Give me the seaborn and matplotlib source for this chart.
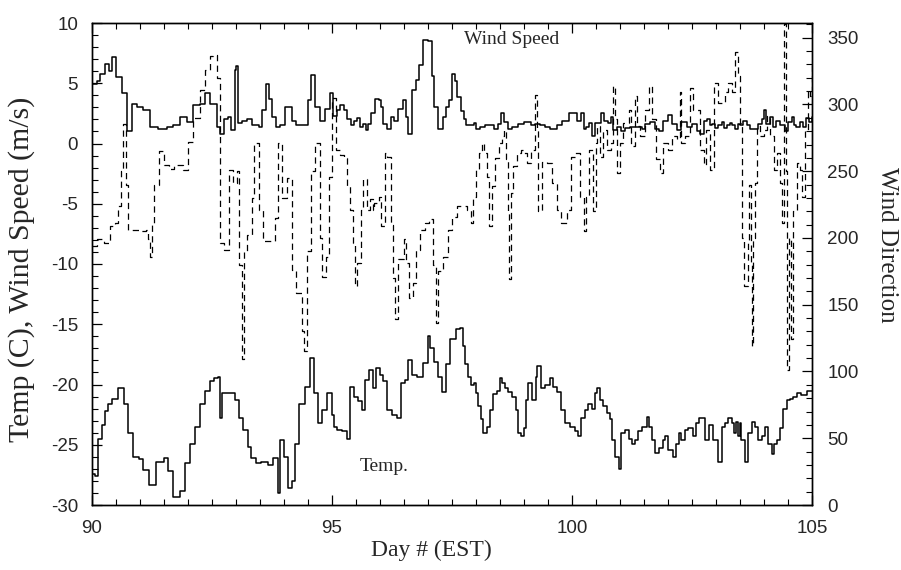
import matplotlib
matplotlib.use("Agg")
import matplotlib.pyplot as plt
from matplotlib.ticker import MultipleLocator
import pandas as pd
import seaborn as sns


# wind speed (m/s)
ws_day = [
    90.0, 90.1, 90.17, 90.27, 90.35, 90.42, 90.5, 90.62, 90.72, 90.83, 90.93,
    91.07, 91.21, 91.38, 91.56, 91.69, 91.83, 91.97, 92.11, 92.25, 92.35, 92.45,
    92.6, 92.67, 92.74, 92.84, 92.9, 92.97, 93.0, 93.05, 93.12, 93.22, 93.34,
    93.47, 93.55, 93.63, 93.69, 93.76, 93.83, 93.92, 94.02, 94.16, 94.26, 94.38,
    94.49, 94.56, 94.65, 94.75, 94.85, 94.95, 95.03, 95.1, 95.17, 95.25, 95.32,
    95.39, 95.46, 95.53, 95.58, 95.64, 95.71, 95.76, 95.81, 95.9, 95.97, 96.02,
    96.07, 96.14, 96.22, 96.29, 96.38, 96.47, 96.54, 96.59, 96.66, 96.75, 96.82,
    96.9, 97.01, 97.08, 97.13, 97.21, 97.32, 97.37, 97.44, 97.5, 97.56, 97.61,
    97.68, 97.74, 97.79, 97.88, 97.95, 98.01, 98.08, 98.19, 98.29, 98.38, 98.45,
    98.52, 98.59, 98.66, 98.76, 98.88, 98.99, 99.08, 99.15, 99.23, 99.33, 99.44,
    99.55, 99.68, 99.8, 99.94, 100.01, 100.1, 100.18, 100.24, 100.3, 100.36,
    100.41, 100.48, 100.6, 100.67, 100.76, 100.81, 100.85, 100.93, 101.03,
    101.1, 101.2, 101.33, 101.45, 101.52, 101.63, 101.73, 101.82, 101.9, 101.99,
    102.08, 102.18, 102.28, 102.39, 102.49, 102.6, 102.67, 102.75, 102.82,
    102.87, 102.92, 102.98, 103.05, 103.12, 103.17, 103.22, 103.29, 103.33,
    103.4, 103.45, 103.5, 103.57, 103.64, 103.7, 103.78, 103.88, 103.95, 104.01,
    104.04, 104.12, 104.18, 104.24, 104.33, 104.44, 104.49, 104.58, 104.63,
    104.67, 104.75, 104.82, 104.87, 104.93, 105.0,
]
ws_val = [
    4.9, 5.2, 5.8, 6.6, 6.0, 7.2, 5.5, 4.2, 1.0, 3.3, 3.0,
    2.8, 1.4, 1.2, 1.4, 1.5, 2.2, 1.8, 3.2, 3.3, 4.2, 3.3,
    1.4, 0.8, 2.0, 2.2, 1.1, 6.1, 6.4, 1.7, 1.9, 2.0, 1.5,
    1.4, 2.8, 4.9, 3.7, 2.2, 1.4, 1.5, 3.0, 1.9, 1.5, 1.5,
    3.6, 5.7, 3.0, 1.9, 2.9, 4.2, 2.3, 2.8, 3.2, 2.8, 2.0,
    1.5, 1.9, 2.1, 1.4, 1.6, 1.1, 1.6, 2.5, 3.7, 3.6, 3.0,
    1.6, 1.2, 2.2, 1.9, 2.9, 3.6, 2.2, 0.8, 4.4, 5.3, 6.5,
    8.6, 8.5, 5.6, 3.0, 1.2, 2.2, 3.0, 3.6, 5.8, 5.2, 3.9,
    2.7, 2.0, 1.5, 1.5, 1.7, 1.2, 1.4, 1.5, 1.5, 1.2, 1.6,
    2.5, 1.8, 1.2, 1.4, 1.6, 1.8, 1.8, 1.5, 1.6, 1.5, 1.4,
    1.2, 1.5, 1.9, 2.5, 2.5, 1.9, 2.5, 1.2, 1.4, 1.7,
    0.6, 1.7, 2.5, 1.9, 1.7, 2.2, 1.1, 1.4, 1.0,
    1.3, 1.4, 1.4, 1.2, 1.6, 1.8, 1.2, 1.0, 1.9, 2.4,
    1.6, 1.1, 1.8, 1.4, 1.6, 1.0, 0.8, 1.9, 2.0,
    1.5, 1.6, 1.3, 1.5, 1.8, 1.3, 1.5, 1.7, 1.5,
    1.2, 1.6, 1.5, 1.9, 1.5, 1.2, 1.2, 1.6, 2.0, 2.8,
    1.6, 2.2, 1.4, 1.9, 1.5, 1.0, 1.8, 2.2, 1.5,
    1.4, 1.8, 1.4, 2.1, 1.8, 2.2,
]

# air temperature (C)
temp_day = [
    90.0, 90.06, 90.13, 90.2, 90.27, 90.34, 90.42, 90.55, 90.67, 90.76, 90.86,
    90.97, 91.07, 91.19, 91.33, 91.49, 91.59, 91.69, 91.83, 91.94, 92.04, 92.15,
    92.25, 92.35, 92.45, 92.55, 92.62, 92.66, 92.7, 92.85, 92.97, 93.06, 93.15,
    93.25, 93.32, 93.42, 93.53, 93.66, 93.78, 93.87, 93.92, 94.01, 94.08, 94.16,
    94.22, 94.32, 94.43, 94.54, 94.62, 94.71, 94.8, 94.9, 95.0, 95.05, 95.1,
    95.2, 95.31, 95.38, 95.46, 95.55, 95.63, 95.69, 95.78, 95.85, 95.92, 95.99,
    96.06, 96.14, 96.24, 96.35, 96.43, 96.52, 96.59, 96.66, 96.78, 96.9, 96.99,
    97.05, 97.13, 97.2, 97.29, 97.37, 97.46, 97.58, 97.66, 97.72, 97.77, 97.84,
    97.9, 97.95, 97.99, 98.05, 98.1, 98.15, 98.22, 98.29, 98.35, 98.43, 98.49,
    98.54, 98.6, 98.67, 98.74, 98.83, 98.88, 98.94, 98.99, 99.04, 99.09, 99.16,
    99.24, 99.28, 99.35, 99.44, 99.55, 99.61, 99.68, 99.78, 99.85, 99.96,
    100.06, 100.12, 100.18, 100.27, 100.34, 100.41, 100.48, 100.53, 100.58,
    100.65, 100.72, 100.79, 100.84, 100.9, 100.97, 101.03, 101.1, 101.18,
    101.24, 101.31, 101.38, 101.45, 101.56, 101.61, 101.66, 101.73, 101.82,
    101.89, 101.94, 102.01, 102.11, 102.17, 102.23, 102.28, 102.35, 102.42,
    102.53, 102.58, 102.65, 102.77, 102.85, 102.94, 103.05, 103.12, 103.19,
    103.26, 103.33, 103.38, 103.42, 103.45, 103.49, 103.53, 103.6, 103.67,
    103.74, 103.81, 103.88, 103.95, 104.02, 104.09, 104.16, 104.21, 104.27,
    104.33, 104.4, 104.47, 104.54, 104.61, 104.68, 104.78, 104.89, 105.0,
]
temp_val = [
    -27.4, -27.6, -24.5, -23.4, -22.2, -21.6, -21.2, -20.3, -21.6, -24.0, -26.0,
    -26.2, -27.1, -28.3, -26.4, -26.1, -27.2, -29.3, -28.8, -26.5, -24.9, -23.5,
    -21.6, -20.5, -19.7, -19.5, -19.4, -22.8, -20.7, -20.7, -21.3, -22.8, -23.8,
    -25.2, -26.1, -26.5, -26.4, -26.7, -26.1, -29.0, -24.6, -26.0, -28.6, -28.0,
    -24.9, -21.6, -20.2, -17.8, -20.7, -23.2, -22.1, -20.7, -22.5, -23.5, -23.8,
    -23.9, -24.5, -20.2, -21.0, -21.4, -22.1, -19.6, -18.8, -20.3, -18.6, -19.2,
    -19.7, -22.1, -22.5, -22.8, -19.9, -19.6, -18.0, -19.2, -19.4, -18.2, -16.0,
    -17.0, -18.1, -19.4, -20.6, -18.3, -16.2, -15.4, -15.3, -16.8, -18.3, -19.4,
    -20.0, -19.9, -20.7, -21.8, -22.9, -24.0, -23.5, -22.1, -20.8, -20.5, -19.5,
    -19.9, -20.3, -20.6, -21.0, -22.1, -24.0, -24.3, -23.6, -21.3, -19.9, -21.3,
    -19.4, -18.5, -20.3, -20.0, -19.5, -20.2, -20.6, -22.1, -23.2, -23.5,
    -23.9, -24.3, -22.8, -22.1, -21.6, -22.0, -20.7, -20.3, -21.3,
    -21.8, -22.4, -22.9, -24.6, -26.0, -27.0, -24.0, -23.8, -24.5,
    -24.9, -24.6, -23.9, -23.5, -22.7, -23.5, -24.6, -25.7, -25.3,
    -24.6, -24.3, -25.4, -26.0, -24.9, -24.0, -24.6, -23.8, -23.6,
    -24.3, -23.2, -22.8, -24.6, -23.4, -24.6, -26.4, -23.5, -23.2,
    -22.8, -23.2, -24.0, -23.1, -24.3, -23.2, -24.6, -26.4, -24.0,
    -23.1, -23.5, -24.6, -24.3, -23.5, -24.9, -25.8, -24.9, -24.6,
    -23.6, -22.0, -21.3, -21.2, -21.0, -20.7, -20.9, -20.5, -20.5,
]

# wind direction (deg), right axis
dir_day = [
    90.0, 90.1, 90.25, 90.38, 90.48, 90.55, 90.6, 90.64, 90.7, 90.76, 90.9,
    91.0, 91.12, 91.17, 91.2, 91.24, 91.3, 91.4, 91.5, 91.6, 91.7, 91.8, 91.9,
    92.0, 92.1, 92.25, 92.35, 92.45, 92.53, 92.6, 92.67, 92.75, 92.85, 92.94,
    93.02, 93.07, 93.12, 93.17, 93.22, 93.33, 93.38, 93.47, 93.57, 93.69, 93.81,
    93.87, 93.95, 94.07, 94.17, 94.26, 94.37, 94.42, 94.47, 94.56, 94.65, 94.75,
    94.8, 94.87, 94.94, 94.99, 95.08, 95.17, 95.24, 95.31, 95.38, 95.43, 95.48,
    95.53, 95.6, 95.65, 95.72, 95.79, 95.85, 95.88, 95.97, 96.02, 96.1, 96.15,
    96.22, 96.28, 96.31, 96.38, 96.49, 96.54, 96.6, 96.68, 96.76, 96.83, 96.94,
    97.03, 97.1, 97.16, 97.21, 97.32, 97.42, 97.49, 97.6, 97.7, 97.81, 97.89,
    97.94, 98.01, 98.06, 98.12, 98.17, 98.23, 98.28, 98.33, 98.4, 98.47, 98.54,
    98.59, 98.62, 98.66, 98.68, 98.72, 98.78, 98.85, 98.93, 99.0, 99.07, 99.15,
    99.22, 99.27, 99.3, 99.37, 99.47, 99.58, 99.68, 99.78, 99.89, 99.98,
    100.06, 100.17, 100.25, 100.3, 100.36, 100.43, 100.5, 100.53, 100.58,
    100.65, 100.72, 100.81, 100.85, 100.9, 100.94, 101.0, 101.07, 101.18,
    101.22, 101.31, 101.36, 101.42, 101.52, 101.6, 101.66, 101.75, 101.83,
    101.9, 102.01, 102.08, 102.18, 102.24, 102.28, 102.35, 102.46, 102.53,
    102.6, 102.67, 102.74, 102.8, 102.87, 102.96, 103.05, 103.12, 103.19,
    103.26, 103.33, 103.39, 103.45, 103.49, 103.54, 103.58, 103.62, 103.66,
    103.69, 103.72, 103.74, 103.78, 103.81, 103.85, 103.92, 103.99, 104.06,
    104.13, 104.2, 104.27, 104.33, 104.38, 104.42, 104.45, 104.48, 104.52,
    104.57, 104.61, 104.68, 104.75, 104.8, 104.85, 104.91, 104.96, 105.0,
]
dir_val = [
    194, 199, 196, 209, 211, 224, 250, 285, 240, 206, 206,
    205, 206, 199, 186, 211, 240, 265, 255, 252, 255, 255, 251,
    272, 290, 311, 326, 336, 337, 320, 196, 191, 251, 241,
    250, 180, 109, 190, 202, 230, 271, 221, 198, 198, 215,
    271, 230, 245, 176, 159, 130, 115, 190, 250, 271, 200,
    171, 186, 246, 305, 266, 262, 260, 239, 221, 196, 164,
    181, 221, 244, 221, 229, 221, 226, 231, 209, 264, 261,
    210, 170, 139, 184, 199, 181, 155, 166, 191, 206, 211,
    214, 180, 136, 175, 186, 206, 216, 224, 224, 221, 211,
    231, 251, 264, 271, 264, 246, 209, 239, 260, 271, 276,
    281, 259, 220, 169, 234, 254, 264, 266, 264, 256, 266,
    307, 281, 220, 257, 256, 241, 221, 211, 221, 261,
    264, 231, 205, 231, 266, 220, 271, 284, 261,
    281, 266, 271, 314, 289, 249, 271, 286, 296,
    269, 306, 284, 276, 296, 314, 289, 259, 249,
    271, 266, 276, 274, 309, 271, 276, 312, 296,
    296, 266, 255, 281, 251, 316, 301, 301, 309,
    316, 309, 339, 321, 286, 200, 164, 164, 196,
    240, 180, 119, 200, 241, 284, 276, 281, 291,
    276, 251, 264, 241, 211, 360, 250, 101, 200,
    124, 220, 256, 251, 231, 281, 311, 306, 331,
]

X_MAJOR = [90, 95, 100, 105]
LEFT_MAJOR = [-30, -25, -20, -15, -10, -5, 0, 5, 10]
RIGHT_MAJOR = [0, 50, 100, 150, 200, 250, 300, 350]

TICK_SIZE = 13.5
SERIF = ["Liberation Serif", "DejaVu Serif"]

sns.set_theme(style="ticks")
plt.rcParams["font.family"] = ["Liberation Sans", "DejaVu Sans"]
plt.rcParams["axes.edgecolor"] = "black"
plt.rcParams["axes.linewidth"] = 1.0
plt.rcParams["axes.unicode_minus"] = False

speed = pd.DataFrame({"day": ws_day, "value": ws_val})
temp = pd.DataFrame({"day": temp_day, "value": temp_val})
direction = pd.DataFrame({"day": dir_day, "value": dir_val})

fig = plt.figure(figsize=(9.01, 5.70), dpi=100)
ax = fig.add_axes([92 / 901, 65 / 570, 720 / 901, 482 / 570])
ax2 = ax.twinx()

sns.lineplot(data=speed, x="day", y="value", ax=ax, color="black",
             lw=1.1, drawstyle="steps-post", estimator=None)
sns.lineplot(data=temp, x="day", y="value", ax=ax, color="black",
             lw=1.1, drawstyle="steps-post", estimator=None)
sns.lineplot(data=direction, x="day", y="value", ax=ax2, color="black",
             lw=0.9, linestyle=(0, (5, 3.5)), drawstyle="steps-post",
             estimator=None)

ax.set_xlim(90, 105)
ax.set_ylim(-30, 10)
ax2.set_ylim(0, 361)

ax.set_xticks(X_MAJOR)
ax.set_yticks(LEFT_MAJOR)
ax2.set_yticks(RIGHT_MAJOR)
ax.xaxis.set_minor_locator(MultipleLocator(0.5))
ax.yaxis.set_minor_locator(MultipleLocator(1))
ax2.yaxis.set_minor_locator(MultipleLocator(10))

ax.tick_params(axis="x", which="both", direction="in", top=True, bottom=True,
               labelsize=TICK_SIZE, pad=11, color="black")
ax.tick_params(axis="y", which="both", direction="in", left=True, right=False,
               labelsize=TICK_SIZE, pad=10, color="black")
ax2.tick_params(axis="y", which="both", direction="in", right=True,
                labelsize=TICK_SIZE, pad=11, color="black")
for a in (ax, ax2):
    a.tick_params(which="major", length=7, width=0.9)
    a.tick_params(which="minor", length=4, width=0.8)
    for s in a.spines.values():
        s.set_color("black")
        s.set_linewidth(1.0)

ax.set_xlabel("Day # (EST)", family=SERIF, fontsize=17, labelpad=2, x=0.472)
ax.set_ylabel("Temp (C), Wind Speed (m/s)", family=SERIF, fontsize=21.5,
              labelpad=11, y=0.49)
ax2.set_ylabel("Wind Direction", family=SERIF, fontsize=18, rotation=-90,
               labelpad=28, y=0.54)

ax.text(98.75, 8.6, "Wind Speed", family=SERIF, fontsize=14,
        ha="center", va="center")
ax.text(96.08, -26.8, "Temp.", family=SERIF, fontsize=14,
        ha="center", va="center")

fig.savefig("out.png", dpi=100, facecolor="white")
